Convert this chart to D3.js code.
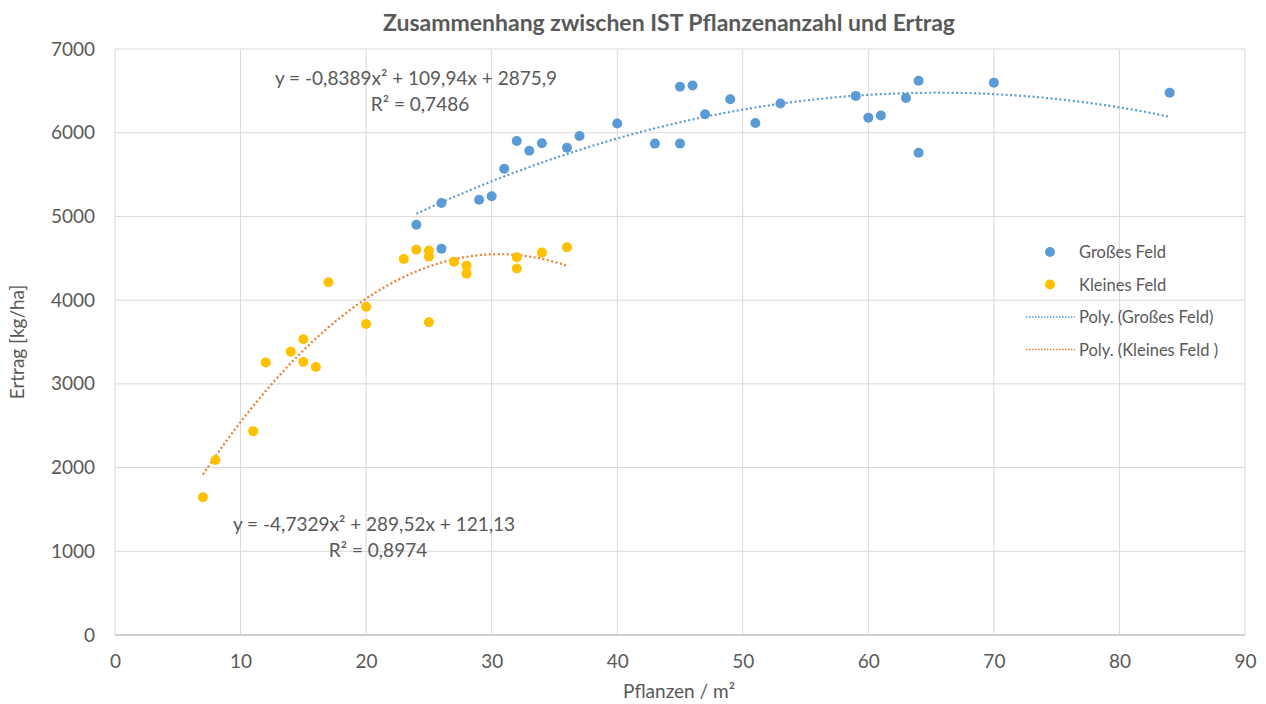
<!DOCTYPE html>
<html>
<head>
<meta charset="utf-8">
<script src="https://cdn.jsdelivr.net/npm/d3@7"></script>
<style>
  body { margin: 0; background: #fff; }
  svg { display: block; }
  text { font-family: Lato, "Open Sans", sans-serif; fill: #595959; }
</style>
</head>
<body>
<svg id="chart" width="1266" height="704"></svg>
<script>
// Großes Feld
var grossX = [24, 26, 26, 29, 30, 31, 32, 33, 34, 36, 37, 40, 43, 45, 45, 46, 47, 49, 51, 53, 59, 60, 61, 63, 64, 64, 70, 84];
var grossY = [4900, 5160, 4615, 5200, 5240, 5570, 5900, 5785, 5875, 5820, 5960, 6110, 5870, 6550, 5870, 6565, 6220, 6400, 6117, 6350, 6440, 6180, 6205, 6415, 6620, 5760, 6598, 6478];
// Kleines Feld
var kleinX = [7, 8, 11, 12, 14, 15, 15, 16, 17, 20, 20, 23, 24, 25, 25, 25, 27, 28, 28, 32, 32, 34, 36];
var kleinY = [1645, 2090, 2435, 3255, 3385, 3533, 3262, 3202, 4214, 3922, 3716, 4492, 4603, 4592, 4520, 3736, 4460, 4412, 4317, 4513, 4377, 4568, 4632];
// trendline coefficients [a, b, c] for a*x^2 + b*x + c
var grossFit = [-0.8389, 109.94, 2875.9];
var kleinFit = [-4.7329, 289.52, 121.13];
var xTicks = [0, 10, 20, 30, 40, 50, 60, 70, 80, 90];
var yTicks = [0, 1000, 2000, 3000, 4000, 5000, 6000, 7000];

var svg = d3.select("#chart");
var margin = {left: 115, right: 21, top: 49, bottom: 69};
var W = 1266, H = 704;

var x = d3.scaleLinear().domain([0, 90]).range([margin.left, W - margin.right]);
var y = d3.scaleLinear().domain([0, 7000]).range([H - margin.bottom, margin.top]);

var blue = "#5b9bd5", gold = "#ffc000", orange = "#ed7d31";

// grid
svg.append("g").selectAll("line").data(xTicks).enter().append("line")
    .attr("x1", function(d) { return x(d); }).attr("x2", function(d) { return x(d); })
    .attr("y1", y(0)).attr("y2", y(7000))
    .attr("stroke", "#d9d9d9").attr("stroke-width", 1);
svg.append("g").selectAll("line").data(yTicks).enter().append("line")
    .attr("x1", x(0)).attr("x2", x(90))
    .attr("y1", function(d) { return y(d); }).attr("y2", function(d) { return y(d); })
    .attr("stroke", function(d) { return d == 0 ? "#bfbfbf" : "#d9d9d9"; })
    .attr("stroke-width", function(d) { return d == 0 ? 1.5 : 1; });

// axes labels
var xAxis = svg.append("g").attr("transform", "translate(0," + y(0) + ")")
    .call(d3.axisBottom(x).tickValues(xTicks).tickSize(0).tickPadding(20));
var yAxis = svg.append("g").attr("transform", "translate(" + x(0) + ",0)")
    .call(d3.axisLeft(y).tickValues(yTicks).tickSize(0).tickPadding(20).tickFormat(d3.format("d")));
[xAxis, yAxis].forEach(function(a) {
    a.select(".domain").remove();
    a.selectAll("text").style("font-size", "19px").attr("fill", "#595959")
        .style("font-family", "Lato, sans-serif");
});

// trendlines
function trend(fit, x0, x1, color) {
    var pts = d3.range(x0, x1 + 0.001, 0.25).map(function(v) {
        return [v, fit[0] * v * v + fit[1] * v + fit[2]];
    });
    svg.append("path").datum(pts)
        .attr("d", d3.line().x(function(d) { return x(d[0]); }).y(function(d) { return y(d[1]); }))
        .attr("fill", "none").attr("stroke", color).attr("stroke-width", 2.2)
        .attr("stroke-dasharray", "2 2.5");
}
trend(grossFit, 24, 84, blue);
trend(kleinFit, 7, 36, orange);

// points
function dots(xs, ys, color) {
    svg.append("g").selectAll("circle").data(xs).enter().append("circle")
        .attr("cx", function(d) { return x(d); })
        .attr("cy", function(d, i) { return y(ys[i]); })
        .attr("r", 5).attr("fill", color);
}
dots(kleinX, kleinY, gold);
dots(grossX, grossY, blue);

// title
svg.append("text").attr("x", 669).attr("y", 31).attr("text-anchor", "middle")
    .style("font-size", "23px").style("font-weight", "bold")
    .text("Zusammenhang zwischen IST Pflanzenanzahl und Ertrag");

// axis titles
svg.append("text").attr("x", x(45) - 1).attr("y", 698).attr("text-anchor", "middle")
    .style("font-size", "19px").text("Pflanzen / m²");
svg.append("text").attr("transform", "translate(24," + y(3500) + ") rotate(-90)")
    .attr("text-anchor", "middle").style("font-size", "19px").text("Ertrag [kg/ha]");

// equations
function eq(cx, cy, l1, l2) {
    svg.append("text").attr("x", cx).attr("y", cy).attr("text-anchor", "middle")
        .style("font-size", "19px").text(l1);
    svg.append("text").attr("x", cx + 4).attr("y", cy + 26).attr("text-anchor", "middle")
        .style("font-size", "19px").text(l2);
}
eq(416, 85, "y = -0,8389x² + 109,94x + 2875,9", "R² = 0,7486");
eq(374, 531, "y = -4,7329x² + 289,52x + 121,13", "R² = 0,8974");

// legend
var legend = svg.append("g").attr("transform", "translate(1050,252)");
var items = [
    {label: "Großes Feld", color: blue, type: "dot"},
    {label: "Kleines Feld", color: gold, type: "dot"},
    {label: "Poly. (Großes Feld)", color: blue, type: "line"},
    {label: "Poly. (Kleines Feld )", color: orange, type: "line"}
];
items.forEach(function(it, i) {
    var g = legend.append("g").attr("transform", "translate(0," + (i * 32.5) + ")");
    if (it.type == "dot") {
        g.append("circle").attr("r", 5).attr("fill", it.color);
    } else {
        g.append("line").attr("x1", -24).attr("x2", 25).attr("y1", 0).attr("y2", 0)
            .attr("stroke", it.color).attr("stroke-width", 1.5).attr("stroke-dasharray", "1.5 1.5");
    }
    g.append("text").attr("x", 29).attr("y", 6)
        .style("font-size", "16.5px").text(it.label);
});
</script>
</body>
</html>
